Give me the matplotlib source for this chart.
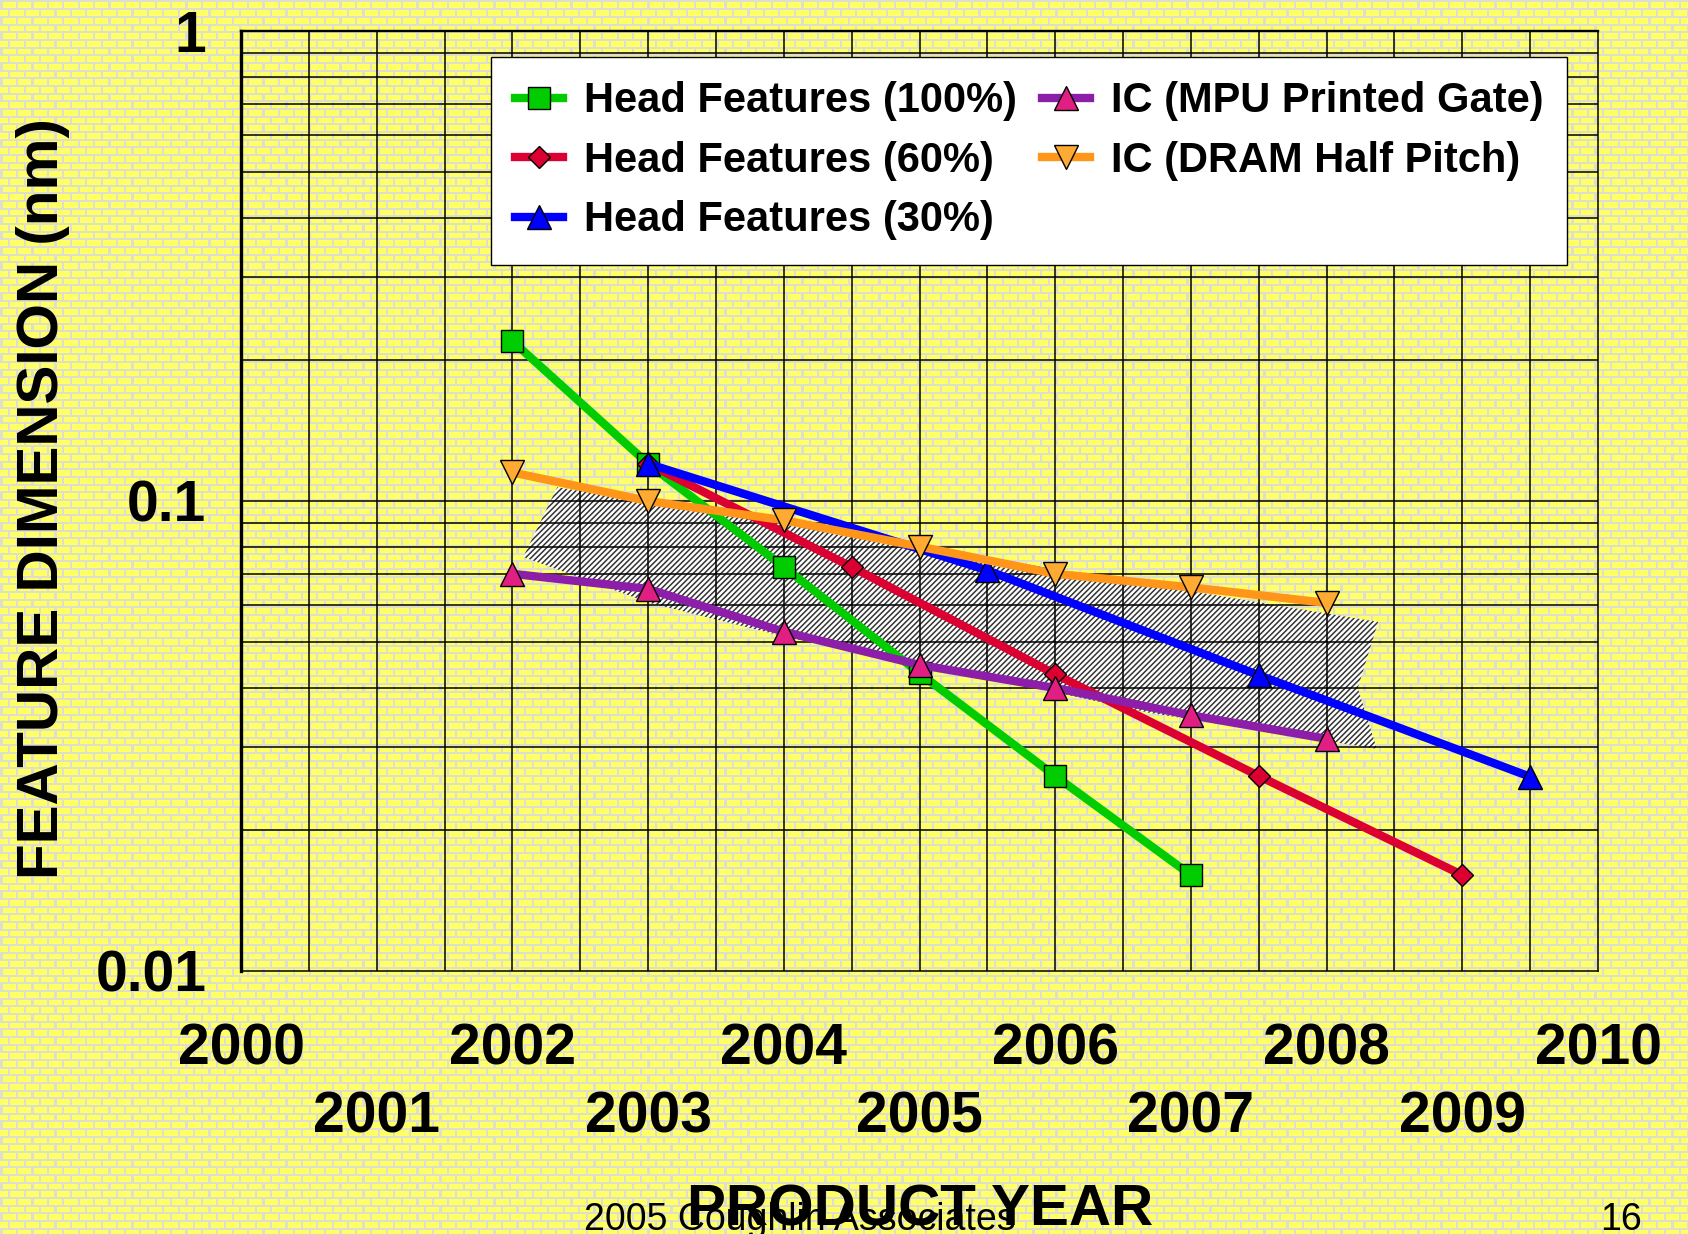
import numpy as np
import matplotlib
matplotlib.use('Agg')
import matplotlib.pyplot as plt
from matplotlib.patches import Polygon
from matplotlib.ticker import NullFormatter

plt.rcParams['font.family'] = ['Liberation Sans', 'DejaVu Sans']
plt.rcParams['hatch.linewidth'] = 1.1

# data
years_100 = [2002, 2003, 2004, 2005, 2006, 2007]
head_100 = [0.219, 0.120, 0.0724, 0.0430, 0.0260, 0.0160]
years_60 = [2003, 2004.5, 2006, 2007.5, 2009]
head_60 = [0.120, 0.0724, 0.0428, 0.0260, 0.0160]
years_30 = [2003, 2005.5, 2007.5, 2009.5]
head_30 = [0.120, 0.0712, 0.0426, 0.0259]
years_ic = [2002, 2003, 2004, 2005, 2006, 2007, 2008]
ic_mpu = [0.070, 0.065, 0.0527, 0.0448, 0.040, 0.0350, 0.0312]
ic_dram = [0.115, 0.100, 0.091, 0.080, 0.070, 0.0655, 0.0607]

# hatched "gap" band outline (year, nm)
band_years = [2002.33, 2008.38, 2008.23, 2008.37, 2006.70, 2005.59, 2004.05, 2003.01, 2002.08]
band_vals = [0.107, 0.0553, 0.040, 0.0297, 0.0354, 0.0416, 0.0511, 0.0607, 0.076]

even_years = [2000, 2002, 2004, 2006, 2008, 2010]
odd_years = [2001, 2003, 2005, 2007, 2009]

W, H = 1688, 1234
fig = plt.figure(figsize=(W / 100, H / 100), dpi=100)

# brick wallpaper of the slide
yy, xx = np.mgrid[0:H, 0:W].astype(float)
row_h, brick_w = 7.67, 15.4
row = np.floor(yy / row_h)
xs = xx + (row % 2) * brick_w / 2
mortar = ((yy % row_h) < 2.0) | ((xs % brick_w) < 2.2)
bg = np.empty((H, W, 3))
bg[:] = np.array([255, 255, 102]) / 255
bg[mortar] = np.array([222, 222, 205]) / 255
fig.figimage(bg, 0, 0, origin='upper', zorder=-10)

ax = fig.add_axes([241 / W, 1 - 971 / H, (1598 - 241) / W, (971 - 31) / H])
ax.patch.set_visible(False)
ax.set_yscale('log')
ax.set_xlim(2000, 2010)
ax.set_ylim(0.01, 1)

band = Polygon(np.column_stack([band_years, band_vals]), closed=True,
               facecolor='white', edgecolor='#333333', linewidth=0, hatch='//////', zorder=1)
ax.add_patch(band)

for x in np.arange(2000.5, 2010, 0.5):
    ax.axvline(x, color='black', lw=1.1, zorder=2)
for dec in [0.01, 0.1]:
    for k in range(2, 11):
        ax.axhline(dec * k, color='black', lw=1.1, zorder=2)

ax.plot(years_100, head_100, color='#00CC00', lw=6, marker='s', ms=16,
        mfc='#00CC00', mec='black', mew=1, label='Head Features (100%)', zorder=3)
ax.plot(years_60, head_60, color='#DC0032', lw=6, marker='D', ms=11.5,
        mfc='#DC0032', mec='black', mew=1, label='Head Features (60%)', zorder=3)
ax.plot(years_30, head_30, color='#0000FF', lw=6, marker='^', ms=17,
        mfc='#0000FF', mec='black', mew=1, label='Head Features (30%)', zorder=3)
ax.plot(years_ic, ic_mpu, color='#8C1EAA', lw=6, marker='^', ms=17,
        mfc='#E11E82', mec='black', mew=1, label='IC (MPU Printed Gate)', zorder=3)
ax.plot(years_ic, ic_dram, color='#FF961A', lw=6, marker='v', ms=17,
        mfc='#FFAA33', mec='black', mew=1, label='IC (DRAM Half Pitch)', zorder=3)

for side, w in [('left', 2.4), ('top', 1.7), ('right', 1.1), ('bottom', 1.1)]:
    ax.spines[side].set_linewidth(w)
    ax.spines[side].set_zorder(4)

ax.set_yticks([0.01, 0.1, 1], ['0.01', '0.1', '1'])
ax.yaxis.set_minor_formatter(NullFormatter())
ax.tick_params(axis='y', which='both', length=0, pad=25, labelsize=41)
for t in ax.get_yticklabels():
    t.set_fontweight('bold')

ax.set_xticks(even_years, [str(y) for y in even_years])
ax.set_xticks(odd_years, [str(y) for y in odd_years], minor=True)
ax.tick_params(axis='x', which='major', length=0, pad=37, labelsize=41)
ax.tick_params(axis='x', which='minor', length=0, pad=86, labelsize=41)
for t in ax.get_xticklabels(which='both'):
    t.set_fontweight('bold')

leg = ax.legend(ncol=2, loc='upper left', bbox_to_anchor=(491 / W, 1 - 57 / H),
                bbox_transform=fig.transFigure, borderaxespad=0, fancybox=False,
                framealpha=1, edgecolor='black', handlelength=1.15, handletextpad=0.5,
                columnspacing=0.6, labelspacing=0.47, borderpad=0.58, markerscale=1.0,
                prop={'size': 30, 'weight': 'bold'})
leg.get_frame().set_linewidth(1)
leg.set_zorder(5)

fig.text(43 / W, 1 - 499 / H, 'FEATURE DIMENSION (nm)', rotation=90, ha='center', va='center',
         fontsize=42, fontweight='bold')
fig.text(920 / W, 1 - 1226 / H, 'PRODUCT YEAR', ha='center', va='baseline',
         fontsize=42, fontweight='bold')
fig.text(584 / W, 1 - 1230 / H, '2005 Coughlin Associates', ha='left', va='baseline', fontsize=27)
fig.text(1642 / W, 1 - 1230 / H, '16', ha='right', va='baseline', fontsize=27)

fig.savefig('out.png', dpi=100)
